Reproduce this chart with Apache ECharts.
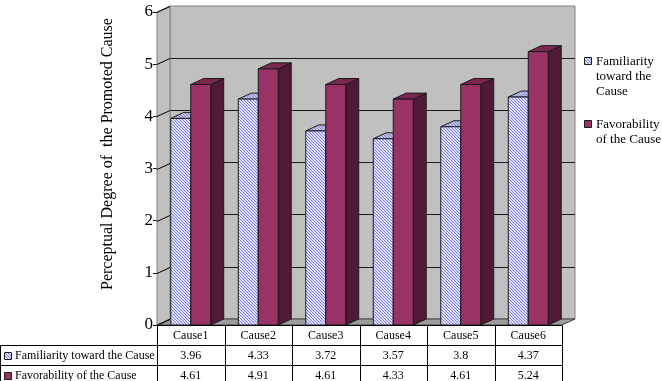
<!DOCTYPE html>
<html>
<head>
<meta charset="utf-8">
<script src="https://cdn.jsdelivr.net/npm/echarts@6/dist/echarts.min.js"></script>
<style>
html, body { margin: 0; padding: 0; background: #fff; }
#chart { width: 662px; height: 381px; }
</style>
</head>
<body>
<div id="chart"></div>
<script>
const categories = ['Cause1', 'Cause2', 'Cause3', 'Cause4', 'Cause5', 'Cause6']
const familiarity = [3.96, 4.33, 3.72, 3.57, 3.8, 4.37]
const favorability = [4.61, 4.91, 4.61, 4.33, 4.61, 5.24]
const seriesNames = ['Familiarity toward the Cause', 'Favorability of the Cause']
const legendLines = [['Familiarity', 'toward the', 'Cause'], ['Favorability', 'of the Cause']]
const yTicks = [0, 1, 2, 3, 4, 5, 6]
const yTitle = 'Perceptual Degree of  the Promoted Cause'

const FONT = 'Liberation Serif'
const DX = 13, DY = -6      // depth offset of the 3d box
const BAR = 0.296           // bar width as share of one category
const ROW_H = 20            // data table row height

function stripes(bg, fg) {
  const c = document.createElement('canvas')
  c.width = 3
  c.height = 3
  const g = c.getContext('2d')
  g.fillStyle = bg
  g.fillRect(0, 0, 3, 3)
  g.fillStyle = fg
  for (let i = 0; i < 3; i++) g.fillRect(i, i, 1, 1)
  return { image: c, repeat: 'repeat' }
}

const FAM = {
  front: stripes('#e0e0ff', '#7c7cf0'),
  side: stripes('#a8a8dc', '#6464c0'),
  top: stripes('#c0c0e8', '#8686cc')
}
const FAV = { front: '#993366', side: '#501a36', top: '#7a2852' }
const EDGE = '#1a1a1a'

function txt(size) {
  return { fontSize: size, fontFamily: FONT, fill: '#000' }
}

function bar3d(side, colors) {
  return function (params, api) {
    const top = api.coord([api.value(0), api.value(1)])
    const base = api.coord([api.value(0), 0])
    const w = api.size([1, 0])[0] * BAR
    const x0 = side === 0 ? top[0] - w : top[0]
    const x1 = x0 + w
    const yT = top[1], yB = base[1]
    return {
      type: 'group',
      children: [
        { type: 'polygon', shape: { points: [[x1, yB], [x1 + DX, yB + DY], [x1 + DX, yT + DY], [x1, yT]] },
          style: { fill: colors.side, stroke: EDGE, lineWidth: 1 } },
        { type: 'polygon', shape: { points: [[x0, yT], [x1, yT], [x1 + DX, yT + DY], [x0 + DX, yT + DY]] },
          style: { fill: colors.top, stroke: EDGE, lineWidth: 1 } },
        { type: 'rect', shape: { x: x0, y: yT, width: w, height: yB - yT },
          style: { fill: colors.front, stroke: EDGE, lineWidth: 1 } }
      ]
    }
  }
}

function renderWalls(params, api) {
  const cs = params.coordSys
  const L = cs.x, R = cs.x + cs.width, T = cs.y, B = cs.y + cs.height
  const kids = [
    { type: 'polygon', shape: { points: [[L, T], [L + DX, T + DY], [L + DX, B + DY], [L, B]] },
      style: { fill: '#c0c0c0', stroke: '#808080', lineWidth: 1 } },
    { type: 'polygon', shape: { points: [[L, B], [L + DX, B + DY], [R + DX, B + DY], [R, B]] },
      style: { fill: '#9c9c9c', stroke: '#404040', lineWidth: 1 } }
  ]
  yTicks.forEach(t => {
    const y = Math.round(api.coord([0, t])[1]) + 0.5
    kids.push({ type: 'line', shape: { x1: L, y1: y, x2: L + DX, y2: y + DY },
      style: { stroke: '#000', lineWidth: 1 } })
  })
  return { type: 'group', children: kids }
}

function hline(x1, x2, y) {
  return { type: 'line', shape: { x1, y1: y, x2, y2: y }, style: { stroke: '#000', lineWidth: 1 } }
}
function vline(x, y1, y2) {
  return { type: 'line', shape: { x1: x, y1, x2: x, y2 }, style: { stroke: '#000', lineWidth: 1 } }
}
function cellText(text, x, y, align) {
  return { type: 'text', x, y,
    style: Object.assign(txt(12), { text, align: align || 'center', verticalAlign: 'middle' }) }
}

function renderTable(params, api) {
  const i = api.value(0)
  const c = api.coord([i, 0])
  const w = api.size([1, 0])[0]
  const x0 = Math.round(c[0] - w / 2) + 0.5
  const x1 = Math.round(c[0] + w / 2) + 0.5
  const y0 = Math.round(c[1]) + 0.5
  const kids = [
    hline(x0, x1, y0), hline(x0, x1, y0 + ROW_H), hline(x0, x1, y0 + 2 * ROW_H), hline(x0, x1, y0 + 3 * ROW_H),
    vline(x0, y0, y0 + 3 * ROW_H), vline(x1, y0, y0 + 3 * ROW_H),
    cellText(categories[i], c[0], y0 + ROW_H / 2),
    cellText(String(api.value(1)), c[0], y0 + ROW_H * 1.5),
    cellText(String(api.value(2)), c[0], y0 + ROW_H * 2.5)
  ]
  if (i === 0) {
    // row headers with legend keys
    kids.push(hline(0.5, x0, y0 + ROW_H), hline(0.5, x0, y0 + 2 * ROW_H), hline(0.5, x0, y0 + 3 * ROW_H))
    kids.push(vline(0.5, y0 + ROW_H, y0 + 3 * ROW_H))
    const keys = [FAM.front, FAV.front]
    seriesNames.forEach((name, k) => {
      const yc = y0 + ROW_H * (1.5 + k)
      kids.push({ type: 'rect', shape: { x: 4.5, y: Math.round(yc - 4) + 0.5, width: 7, height: 7 },
        style: { fill: keys[k], stroke: EDGE, lineWidth: 1 } })
      kids.push(cellText(name, 15, yc, 'left'))
    })
  }
  return { type: 'group', children: kids }
}

const chart = echarts.init(document.getElementById('chart'))

chart.setOption({
  animation: false,
  backgroundColor: '#fff',
  textStyle: { fontFamily: FONT },
  grid: [
    { left: 157, right: 100, top: 12, bottom: 56 },
    { left: 170, right: 87, top: 6, bottom: 62, show: true,
      backgroundColor: '#c0c0c0', borderColor: '#808080', borderWidth: 1 }
  ],
  xAxis: [
    { type: 'category', gridIndex: 0, data: categories,
      axisLine: { show: false }, axisTick: { show: false }, axisLabel: { show: false } },
    { type: 'category', gridIndex: 1, data: categories, show: false }
  ],
  yAxis: [
    { type: 'value', gridIndex: 0, min: 0, max: 6, interval: 1,
      axisLine: { show: true, lineStyle: { color: '#000', width: 1 } },
      axisTick: { show: true, length: 4, lineStyle: { color: '#000' } },
      axisLabel: { color: '#000', fontSize: 17, fontFamily: FONT, margin: 4 },
      splitLine: { show: false } },
    { type: 'value', gridIndex: 1, min: 0, max: 6, interval: 1,
      axisLine: { show: false }, axisTick: { show: false }, axisLabel: { show: false },
      splitLine: { show: true, showMinLine: false, showMaxLine: false, lineStyle: { color: '#1a1a1a', width: 1 } } }
  ],
  graphic: [
    { type: 'text', x: 108, y: 154, rotation: Math.PI / 2,
      style: Object.assign(txt(16), { text: yTitle, align: 'center', verticalAlign: 'middle' }) },
    { type: 'rect', shape: { x: 584.5, y: 57.5, width: 7, height: 7 },
      style: { fill: FAM.front, stroke: EDGE, lineWidth: 1 } },
    { type: 'text', x: 596, y: 54,
      style: Object.assign(txt(13), { text: legendLines[0].join('\n'), lineHeight: 15 }) },
    { type: 'rect', shape: { x: 584.5, y: 120.5, width: 7, height: 7 },
      style: { fill: FAV.front, stroke: EDGE, lineWidth: 1 } },
    { type: 'text', x: 596, y: 117,
      style: Object.assign(txt(13), { text: legendLines[1].join('\n'), lineHeight: 15 }) }
  ],
  series: [
    { type: 'custom', name: 'walls', xAxisIndex: 0, yAxisIndex: 0, silent: true,
      renderItem: renderWalls, data: [[0, 0]] },
    { type: 'custom', name: seriesNames[0], xAxisIndex: 0, yAxisIndex: 0,
      renderItem: bar3d(0, FAM), data: familiarity.map((v, i) => [i, v]) },
    { type: 'custom', name: seriesNames[1], xAxisIndex: 0, yAxisIndex: 0,
      renderItem: bar3d(1, FAV), data: favorability.map((v, i) => [i, v]) },
    { type: 'custom', name: 'table', xAxisIndex: 0, yAxisIndex: 0, silent: true,
      renderItem: renderTable, data: categories.map((c, i) => [i, familiarity[i], favorability[i]]) }
  ]
})
</script>
</body>
</html>
